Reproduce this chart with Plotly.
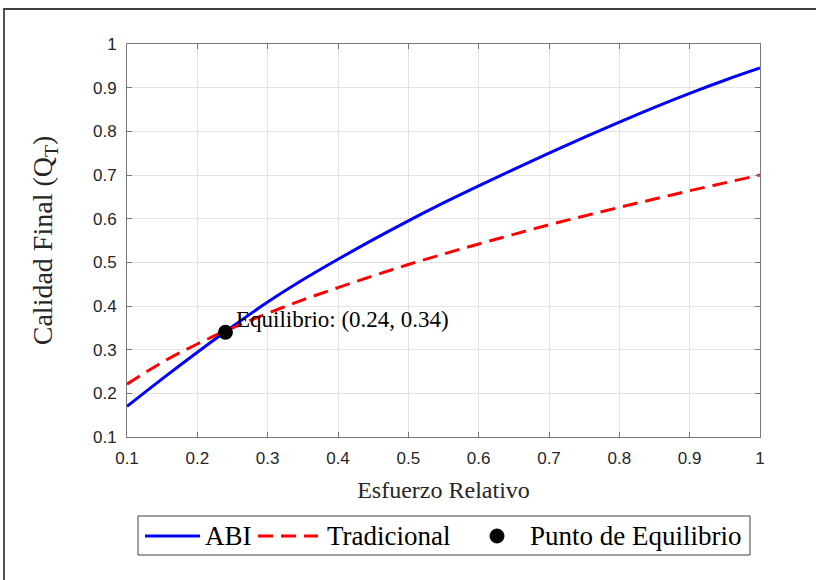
import plotly.graph_objects as go

# Relative effort (x) and final quality values for each approach
esfuerzo = [0.10, 0.15, 0.20, 0.25, 0.30, 0.35, 0.40, 0.45, 0.50, 0.55,
            0.60, 0.65, 0.70, 0.75, 0.80, 0.85, 0.90, 0.95, 1.00]
calidad_abi = [0.170, 0.233, 0.294, 0.353, 0.409, 0.460, 0.507, 0.552, 0.595, 0.636,
               0.675, 0.713, 0.750, 0.786, 0.821, 0.855, 0.887, 0.917, 0.945]
calidad_trad = [0.221, 0.271, 0.313, 0.350, 0.383, 0.414, 0.442, 0.469, 0.495, 0.519,
                0.542, 0.564, 0.586, 0.606, 0.626, 0.645, 0.664, 0.682, 0.700]

equilibrio_x = 0.24
equilibrio_y = 0.34

tick_vals = [0.1, 0.2, 0.3, 0.4, 0.5, 0.6, 0.7, 0.8, 0.9, 1.0]
tick_text = ["0.1", "0.2", "0.3", "0.4", "0.5", "0.6", "0.7", "0.8", "0.9", "1"]

SERIF = "Liberation Serif, Times New Roman, serif"
SANS = "Liberation Sans, Arial, sans-serif"

BLUE = "#0000ff"
RED = "#ff0000"
DASH = "15px,8px"

# Plot area in pixels (used to place the legend box below the axes)
L, R, T, B = 127, 760, 44, 437


def px_x(p):
    return (p - L) / (R - L)


def px_y(p):
    return (B - p) / (B - T)


fig = go.Figure()
fig.add_trace(go.Scatter(
    x=esfuerzo, y=calidad_abi, mode="lines", name="ABI", showlegend=False,
    line=dict(color=BLUE, width=3, shape="spline"),
))
fig.add_trace(go.Scatter(
    x=esfuerzo, y=calidad_trad, mode="lines", name="Tradicional", showlegend=False,
    line=dict(color=RED, width=3, dash=DASH, shape="spline"),
))
fig.add_trace(go.Scatter(
    x=[equilibrio_x], y=[equilibrio_y], mode="markers", name="Punto de Equilibrio",
    showlegend=False, marker=dict(color="black", size=15),
))

fig.add_annotation(
    x=px_x(234), y=equilibrio_y + 0.029, xref="paper", yref="y",
    text=f"Equilibrio: ({equilibrio_x:.2f}, {equilibrio_y:.2f})",
    showarrow=False, xanchor="left", yanchor="middle",
    font=dict(family=SERIF, size=23, color="#000000"),
)

shapes = []
# Figure frame line along the left and top edges
shapes.append(dict(type="rect", xref="paper", yref="paper",
                   x0=px_x(4), x1=px_x(830), y0=px_y(600), y1=px_y(9),
                   line=dict(color="#404040", width=1.8), fillcolor="rgba(0,0,0,0)",
                   layer="below"))

# Legend box with its samples and labels
ly = px_y(536)
shapes.append(dict(type="rect", xref="paper", yref="paper",
                   x0=px_x(138), x1=px_x(750), y0=px_y(555), y1=px_y(516),
                   line=dict(color="#404040", width=1), fillcolor="white"))
shapes.append(dict(type="line", xref="paper", yref="paper",
                   x0=px_x(145), x1=px_x(200), y0=ly, y1=ly,
                   line=dict(color=BLUE, width=3)))
shapes.append(dict(type="line", xref="paper", yref="paper",
                   x0=px_x(258), x1=px_x(318), y0=ly, y1=ly,
                   line=dict(color=RED, width=3, dash=DASH)))
shapes.append(dict(type="circle", xref="paper", yref="paper",
                   x0=px_x(490), x1=px_x(504), y0=px_y(543), y1=px_y(529),
                   line=dict(color="black", width=1), fillcolor="black"))

legend_labels = [("ABI", 203), ("Tradicional", 325), ("Punto de Equilibrio", 528)]
for label, left in legend_labels:
    fig.add_annotation(x=px_x(left), y=ly, xref="paper", yref="paper",
                       text=label, showarrow=False, xanchor="left", yanchor="middle",
                       font=dict(family=SERIF, size=27, color="#000000"))

axis_common = dict(
    showgrid=True, gridcolor="#e3e3e3", gridwidth=1,
    showline=True, linecolor="#777777", linewidth=1, mirror="allticks",
    ticks="inside", ticklen=5, tickcolor="#777777", tickwidth=1,
    zeroline=False, tickvals=tick_vals, ticktext=tick_text,
    tickfont=dict(family=SANS, size=17, color="#262626"),
    ticklabelstandoff=6,
)

fig.update_layout(
    width=816, height=580,
    margin=dict(l=L, r=816 - R, t=T, b=580 - B, autoexpand=False),
    paper_bgcolor="white", plot_bgcolor="white",
    shapes=shapes,
    showlegend=False,
    xaxis=dict(range=[0.1, 1.0], **axis_common,
               title=dict(text="Esfuerzo Relativo", standoff=13,
                          font=dict(family=SERIF, size=24, color="#262626"))),
    yaxis=dict(range=[0.1, 1.0], **axis_common,
               title=dict(text="Calidad Final (Q<sub>T</sub>)", standoff=32,
                          font=dict(family=SERIF, size=28, color="#262626"))),
)

fig.write_html("out.html")
